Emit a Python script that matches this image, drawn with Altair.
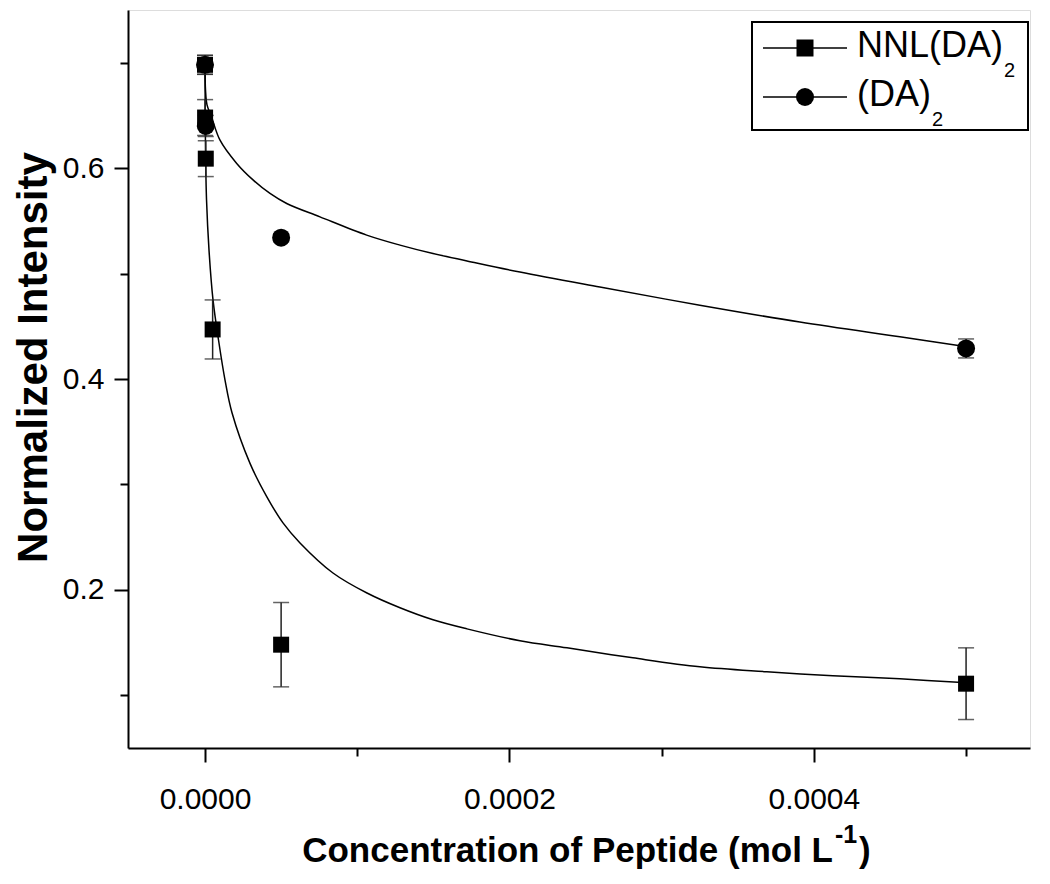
import altair as alt
import pandas as pd

S1 = "NNL(DA)₂"
S2 = "(DA)₂"

# measured points
nnl_x = [5e-9, 5e-8, 5e-7, 5e-6, 5e-5, 5e-4]
nnl_y = [0.698, 0.648, 0.609, 0.447, 0.148, 0.111]
nnl_err = [0.009, 0.017, 0.017, 0.028, 0.040, 0.034]

da_x = [5e-9, 5e-7, 5e-5, 5e-4]
da_y = [0.698, 0.640, 0.534, 0.429]
da_err = [0.009, 0.010, 0.004, 0.009]

# fitted curves
nnl_fit_x = [0, 3.3e-7, 9.9e-7, 2.63e-6, 5.25e-6, 8.87e-6, 1.314e-5, 1.773e-5,
             2.956e-5, 4.072e-5, 5.123e-5, 6.24e-5, 8.407e-5, 1.064e-4, 1.281e-4,
             1.498e-4, 1.721e-4, 2.069e-4, 2.378e-4, 2.811e-4, 3.251e-4, 3.691e-4,
             4.125e-4, 4.565e-4, 5.005e-4]
nnl_fit_y = [0.698, 0.617, 0.570, 0.522, 0.475, 0.437, 0.399, 0.368,
             0.320, 0.288, 0.2635, 0.2445, 0.216, 0.197, 0.183,
             0.1716, 0.163, 0.1517, 0.145, 0.1355, 0.127, 0.1223,
             0.1185, 0.1156, 0.1118]

da_fit_x = [0, 3.3e-7, 1.31e-6, 4.4e-6, 9.85e-6, 2.082e-5, 3.172e-5, 4.269e-5,
            5.366e-5, 7.553e-5, 1.062e-4, 1.281e-4, 1.498e-4, 1.721e-4, 2.069e-4,
            2.594e-4, 3.251e-4, 3.908e-4, 4.565e-4, 5.005e-4]
da_fit_y = [0.698, 0.674, 0.660, 0.648, 0.6265, 0.6045, 0.5886, 0.576,
            0.5665, 0.5538, 0.5365, 0.527, 0.519, 0.512, 0.5014,
            0.4872, 0.470, 0.454, 0.440, 0.4306]

x_ticks = [0, 0.0001, 0.0002, 0.0003, 0.0004, 0.0005]
y_ticks = [0.1, 0.2, 0.3, 0.4, 0.5, 0.6, 0.7]

# legend text pieces
leg_main = ["NNL(DA)", "(DA)"]
leg_sub = ["2", "2"]
leg_shapes = ["square", "circle"]
x_title_main = "Concentration of Peptide (mol L"
x_title_sup = "-1"
x_title_end = ")"
y_title = "Normalized Intensity"

pts = pd.DataFrame({
    "x": nnl_x + da_x,
    "y": nnl_y + da_y,
    "err": nnl_err + da_err,
    "series": [S1] * len(nnl_x) + [S2] * len(da_x),
})
pts["lo"] = pts["y"] - pts["err"]
pts["hi"] = pts["y"] + pts["err"]
caps = pd.concat([
    pd.DataFrame({"x": pts["x"], "y": pts["lo"]}),
    pd.DataFrame({"x": pts["x"], "y": pts["hi"]}),
])
fit = pd.DataFrame({
    "x": nnl_fit_x + da_fit_x,
    "y": nnl_fit_y + da_fit_y,
    "series": [S1] * len(nnl_fit_x) + [S2] * len(da_fit_x),
})

FONT = "Liberation Sans"
xdom = [-0.0000506, 0.000542]
ydom = [0.05, 0.75]

MAJ_X = "abs(datum.value*10000 - round(datum.value*5000)*2) < 0.01"
MAJ_Y = "abs(datum.value*10 - round(datum.value*5)*2) < 0.01"

xenc = alt.X("x:Q", scale=alt.Scale(domain=xdom, nice=False, zero=False),
             axis=alt.Axis(
                 title=None,
                 values=x_ticks, format=".4f",
                 labelExpr=f"{MAJ_X} ? datum.label : ''",
                 tickSize={"condition": {"test": MAJ_X, "value": 14}, "value": 8},
                 labelPadding=22,
                 labelFont=FONT, labelFontSize=30, labelColor="black",
                 domainColor="black", domainWidth=2, tickColor="black", tickWidth=2,
                 grid=False))
yenc = alt.Y("y:Q", scale=alt.Scale(domain=ydom, nice=False, zero=False),
             axis=alt.Axis(
                 title=y_title,
                 values=y_ticks, format=".1f",
                 labelExpr=f"{MAJ_Y} ? datum.label : ''",
                 tickSize={"condition": {"test": MAJ_Y, "value": 14}, "value": 8},
                 labelPadding=10,
                 labelFont=FONT, labelFontSize=30, labelColor="black",
                 titleFont=FONT, titleFontSize=42, titleFontWeight="bold", titleColor="black",
                 titleX=-82, titleY=347, titleAngle=270, titleAlign="center",
                 titleBaseline="alphabetic",
                 domainColor="black", domainWidth=2, tickColor="black", tickWidth=2,
                 grid=False))

lines = alt.Chart(fit).mark_line(color="black", strokeWidth=1.5, interpolate="catmull-rom").encode(
    x=xenc, y=yenc, detail="series:N", order="x:Q")

bars = alt.Chart(pts).mark_rule(color="#222", strokeWidth=1.5).encode(
    x="x:Q", y="lo:Q", y2="hi:Q")

capmarks = alt.Chart(caps).mark_tick(color="#222", thickness=1.5, size=16, orient="horizontal").encode(
    x="x:Q", y="y:Q")

points = alt.Chart(pts).mark_point(filled=True, opacity=1, color="black").encode(
    x="x:Q", y="y:Q",
    shape=alt.Shape("series:N", scale=alt.Scale(domain=[S1, S2], range=["square", "circle"]), legend=None),
    size=alt.Size("series:N", scale=alt.Scale(domain=[S1, S2], range=[256, 324]), legend=None),
)

one = pd.DataFrame({"a": [0]})

# ---- manual legend (box, line + marker, label with subscript) ----
legend_parts = [
    alt.Chart(one).mark_rect(fill="white", stroke="black", strokeWidth=2).encode(
        x=alt.value(624), x2=alt.value(900), y=alt.value(12), y2=alt.value(120))
]
row_y = [38, 87]
main_w = [146, 74]
for i in range(2):
    yy = row_y[i]
    legend_parts.append(alt.Chart(one).mark_rule(color="black", strokeWidth=1.5).encode(
        x=alt.value(635), x2=alt.value(719), y=alt.value(yy), y2=alt.value(yy)))
    legend_parts.append(alt.Chart(one).mark_point(
        filled=True, opacity=1, color="black", shape=leg_shapes[i],
        size=289 if leg_shapes[i] == "square" else 324).encode(
        x=alt.value(677), y=alt.value(yy)))
    legend_parts.append(alt.Chart(one).mark_text(
        font=FONT, fontSize=36, align="left", baseline="alphabetic", color="black").encode(
        x=alt.value(729), y=alt.value(yy + 9), text=alt.value(leg_main[i])))
    legend_parts.append(alt.Chart(one).mark_text(
        font=FONT, fontSize=20, align="left", baseline="alphabetic", color="black").encode(
        x=alt.value(729 + main_w[i] + 1), y=alt.value(yy + 29), text=alt.value(leg_sub[i])))

# ---- x axis title with superscript ----
xt = [
    alt.Chart(one).mark_text(font=FONT, fontSize=35, fontWeight="bold", align="right",
                             baseline="alphabetic", color="black").encode(
        x=alt.value(705), y=alt.value(852), text=alt.value(x_title_main)),
    alt.Chart(one).mark_text(font=FONT, fontSize=25, fontWeight="bold", align="left",
                             baseline="alphabetic", color="black").encode(
        x=alt.value(707), y=alt.value(833), text=alt.value(x_title_sup)),
    alt.Chart(one).mark_text(font=FONT, fontSize=35, fontWeight="bold", align="left",
                             baseline="alphabetic", color="black").encode(
        x=alt.value(731), y=alt.value(852), text=alt.value(x_title_end)),
]

chart = alt.layer(lines, bars, capmarks, points, *legend_parts, *xt).properties(
    width=902, height=738,
    autosize="none",
    padding={"left": 120, "top": 2, "right": 10, "bottom": 130},
).configure_view(stroke="black", strokeWidth=2).configure(background="white")

chart.save("out.html", embed_options={"renderer": "svg", "actions": False})
